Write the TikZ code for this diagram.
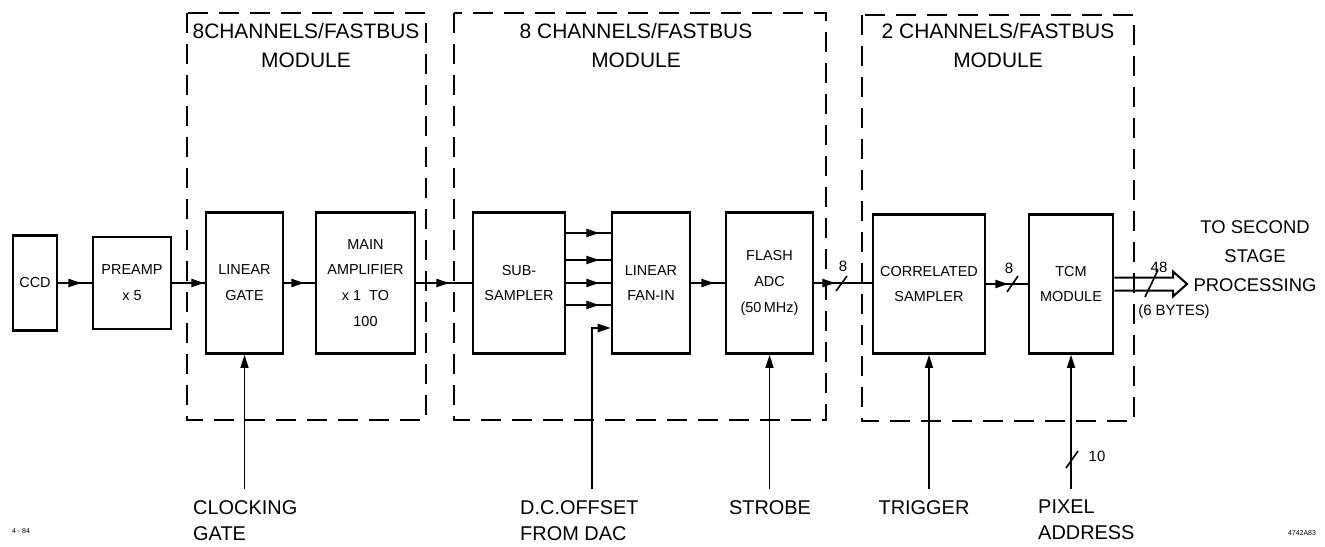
\documentclass[tikz,border=0pt]{standalone}
\usepackage{fontspec}
\setmainfont{Liberation Sans}
\usetikzlibrary{arrows.meta,decorations.markings,calc}
\tikzset{
  blk/.style={draw, line width=2.6bp, minimum height=141bp, inner sep=0pt, align=center,
    font=\fontsize{14.5}{26}\selectfont},
  modbox/.style={draw, line width=2bp, dash pattern=on 20bp off 11bp},
  flow/.style={line width=2.2bp},
  midarrow/.style={postaction={decorate}, decoration={markings,
    mark=at position #1 with {\arrow{Triangle[length=13bp,width=8bp]}}}},
  inarrow/.style={line width=1.6bp, -{Triangle[length=13bp,width=8bp]}},
  hdr/.style={font=\fontsize{21}{29}\selectfont, align=center, inner sep=0pt},
  lbl/.style={font=\fontsize{20}{26}\selectfont, align=left, anchor=north west, inner sep=0pt},
  num/.style={font=\fontsize{15}{18}\selectfont, inner sep=0pt},
  busslash/.style={line width=1.6bp},
  tiny/.style={font=\fontsize{7}{8}\selectfont, inner sep=0pt}
}
\begin{document}
\begin{tikzpicture}[x=1bp, y=-1bp]
\useasboundingbox (0,0) rectangle (1325,547);

% module boxes
\draw[modbox] (187,13) rectangle (426,420);
\draw[modbox] (454,13) rectangle (826,420);
\draw[modbox] (862,15) rectangle (1134,421);
\node[hdr] (h1) at (306,45.5) {8CHANNELS/FASTBUS\\MODULE};
\node[hdr] (h2) at (636,45.5) {8 CHANNELS/FASTBUS\\MODULE};
\node[hdr] (h3) at (998,45.5) {2 CHANNELS/FASTBUS\\MODULE};

% blocks
\node[blk, minimum width=44bp, minimum height=95bp] (ccd) at (35,283) {CCD};
\node[blk, minimum width=78bp, minimum height=92bp] (pre) at (132,283) {PREAMP\\x 5};
\node[blk, minimum width=77bp] (lgate) at (244.5,283) {LINEAR\\GATE};
\node[blk, minimum width=99bp] (main) at (365.5,283) {MAIN\\AMPLIFIER\\x 1~~TO\\100};
\node[blk, minimum width=92bp] (sub) at (519,283) {SUB-\\SAMPLER};
\node[blk, minimum width=78bp] (fan) at (651,283) {LINEAR\\FAN-IN};
\node[blk, minimum width=87bp] (flash) at (769.5,283) {FLASH\\ADC\\(50\,MHz)};
\node[blk, minimum width=112bp, minimum height=139bp] (corr) at (929,284) {CORRELATED\\SAMPLER};
\node[blk, minimum width=84bp, minimum height=139bp] (tcm) at (1071,284) {TCM\\MODULE};

% main signal flow
\draw[flow, midarrow=23bp] (ccd.east) -- (pre.west);
\draw[flow, midarrow=32bp] (pre.east) -- (lgate.west);
\draw[flow, midarrow=20bp] (lgate.east) -- (main.west);
\draw[flow, midarrow=33bp] (main.east) -- (sub.west);
\coordinate (s1) at (0,233);
\coordinate (s2) at (0,260);
\coordinate (s4) at (0,305);
\draw[flow, midarrow=33bp] (sub.east |- s1) -- (fan.west |- s1);
\draw[flow, midarrow=33bp] (sub.east |- s2) -- (fan.west |- s2);
\draw[flow, midarrow=33bp] (sub.east) -- (fan.west);
\draw[flow, midarrow=33bp] (sub.east |- s4) -- (fan.west |- s4);
\draw[flow, midarrow=23bp] (fan.east) -- (flash.west);
\draw[flow, midarrow=21bp] (flash.east) -- (corr.west |- flash.east);
\draw[flow, midarrow=22bp] (corr.east) -- (tcm.west);

% bus widths
\draw[busslash] (836,291) -- (847,276);
\node[num] (n8a) at (843,266) {8};
\draw[busslash] (1007,292) -- (1018,276);
\node[num] (n8b) at (1009,268) {8};

% output bus
\coordinate (outtip) at (1187,284);
\draw[line width=2bp] ([yshift=6.5bp]tcm.east) -- ([xshift=-14bp,yshift=6.5bp]outtip)
  -- ([xshift=-14bp,yshift=12.5bp]outtip) -- (outtip)
  -- ([xshift=-14bp,yshift=-12.5bp]outtip) -- ([xshift=-14bp,yshift=-6.5bp]outtip)
  -- ([yshift=-6.5bp]tcm.east);
\draw[busslash] (1145,297) -- (1158,270);
\node[num] (n48) at (1159,267) {48};
\node[num] (bytes) at (1174,312) {(6 BYTES)};
\node[font=\fontsize{18.5}{29}\selectfont, align=center, inner sep=0pt] (out) at (1255,256)
  {TO SECOND\\STAGE\\PROCESSING};

% inputs from below
\node[lbl] (clk) at (193,500) {CLOCKING\\GATE};
\node[lbl] (dc) at (520,500) {D.C.OFFSET\\FROM DAC};
\node[lbl, anchor=north] (strobe) at (770,500) {STROBE};
\node[lbl, anchor=north] (trig) at (924,500) {TRIGGER};
\node[lbl] (pix) at (1038,500) {PIXEL\\ADDRESS};

\draw[inarrow] ($(lgate.south |- clk.north)+(0,-11)$) -- (lgate.south);
\coordinate (dce) at (592,328);
\draw[line width=1.6bp] ($(dc.north -| dce)+(0,-11)$) -- (dce);
\draw[flow, -{Triangle[length=13bp,width=8bp]}] ([xshift=-0.8bp]dce) -- (fan.west |- dce);
\draw[inarrow] ($(flash.south |- strobe.north)+(0,-11)$) -- (flash.south);
\draw[inarrow] ($(corr.south |- trig.north)+(0,-11)$) -- (corr.south);
\draw[inarrow] ($(tcm.south |- pix.north)+(0,-11)$) -- (tcm.south);
\draw[busslash] (1066,468) -- (1078,451);
\node[num] (n10) at (1097,456) {10};

% figure marks
\node[tiny] (d1) at (21,531) {4 - 84};
\node[tiny] (d2) at (1302,533) {4742A83};
\end{tikzpicture}
\end{document}
